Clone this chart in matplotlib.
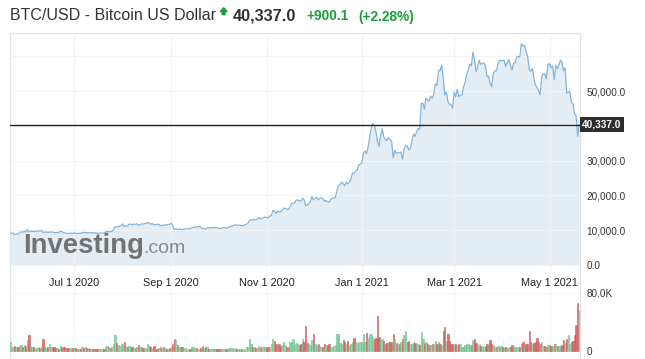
import matplotlib.pyplot as plt
import pandas as pd
from matplotlib.patches import Polygon
from matplotlib.transforms import blended_transform_factory

plt.rcParams['font.family'] = ['Liberation Sans', 'DejaVu Sans']

# BTC/USD daily close, 21 May 2020 - 31 Dec 2020
close_2020 = [
    9060, 9170, 9180, 8720, 8900, 8840, 9200, 9570, 9430, 9700, 9450,
    10200, 9520, 9670, 9790, 9620, 9670, 9750, 9780, 9770, 9880, 9320, 9470, 9470, 9340, 9430,
    9520, 9460, 9390, 9300, 9360, 9290, 9690, 9630, 9290, 9250, 9160, 9010, 9120, 9190, 9140,
    9230, 9090, 9070, 9130, 9080, 9350, 9250, 9430, 9240, 9290, 9240, 9300, 9240, 9260, 9190,
    9130, 9150, 9170, 9210, 9160, 9390, 9540, 9610, 9550, 9700, 9930, 11030, 10910, 11100, 11110, 11350,
    11800, 11070, 11230, 11190, 11740, 11770, 11600, 11750, 11680, 11880, 11400, 11570, 11780, 11770, 11860,
    11910, 12280, 11950, 11750, 11870, 11520, 11680, 11650, 11750, 11320, 11460, 11330, 11540, 11470, 11710, 11680,
    11970, 11420, 10170, 10480, 10170, 10280, 10370, 10130, 10240, 10370, 10400, 10440, 10330, 10680, 10790,
    10950, 10940, 10940, 11090, 10920, 10420, 10540, 10240, 10740, 10690, 10730, 10780, 10700, 10840, 10780,
    10620, 10570, 10550, 10670, 10790, 10600, 10670, 10920, 11060, 11300, 11380, 11550, 11430, 11430, 11500,
    11320, 11360, 11480, 11750, 11920, 12820, 12990, 12930, 13120, 13030, 13070, 13650, 13280, 13460, 13560, 13780,
    13740, 13550, 14020, 14150, 15590, 15580, 14830, 15480, 15330, 15300, 15700, 16280, 16320, 16070, 15960,
    16720, 17660, 17800, 17820, 18680, 18690, 18420, 18370, 19160, 18730, 17150, 17140, 17720, 18180, 19700,
    18790, 19200, 19450, 18700, 19150, 19360, 19170, 18320, 18550, 18250, 18040, 18800, 19170, 19270, 19440,
    21340, 22800, 23140, 23860, 23480, 22730, 23830, 23280, 23730, 24710, 26490, 26280, 27080, 27360, 28840, 29000,
]
# 1 Jan 2021 - 20 May 2021
close_2021 = [
    29370, 32130, 32780, 31970, 33990, 36820, 39370, 40670, 40240, 38240, 35540, 34010, 37390, 39160, 36830,
    36020, 35800, 36630, 36070, 35550, 30830, 33000, 32100, 32290, 32250, 32500, 30430, 33470, 34320, 34300, 33110,
    33540, 35510, 37680, 36980, 38290, 39260, 38900, 46400, 46480, 44840, 47970, 47400, 47190, 48580,
    47940, 49130, 52120, 51600, 55920, 55890, 57410, 54090, 48890, 49700, 47050, 46280, 46100, 45140,
    49630, 48380, 50540, 48450, 48870, 48920, 51210, 52390, 54880, 55850, 57780, 57230, 61190, 59000, 55610,
    56900, 58910, 57650, 58030, 58100, 57350, 54100, 54340, 52300, 51300, 55030, 55820, 55780, 57600, 58750, 58800,
    58740, 58970, 57060, 58200, 59120, 57590, 56000, 58080, 58090, 59770, 59960, 59850, 63580, 62960, 63220,
    61400, 60040, 56220, 55720, 56470, 53800, 51700, 51190, 50100, 49000, 54000, 55030, 54860, 53560, 57750,
    57830, 56630, 57210, 53240, 57470, 56430, 57380, 58930, 58280, 55860, 56700, 49400, 49700, 49900, 46760,
    46450, 43540, 42900, 37000, 40337,
]
# daily volume, thousands
volume_2020 = [
    12, 6, 5, 7, 6, 5, 7, 8, 6, 8, 7,
    15, 22, 7, 6, 5, 4, 4, 5, 4, 6, 16, 7, 4, 5, 10, 6, 5, 5, 4, 4, 3, 7, 5, 6, 5, 4, 4, 3, 4, 4,
    4, 4, 3, 3, 3, 6, 4, 5, 4, 4, 3, 3, 3, 3, 3, 3, 3, 3, 3, 3, 5, 7, 6, 4, 6, 9, 22, 11, 8, 7, 9,
    9, 13, 7, 6, 7, 6, 5, 4, 4, 6, 8, 5, 6, 4, 4, 4, 10, 7, 6, 4, 7, 3, 3, 4, 6, 4, 5, 4, 3, 3, 4,
    6, 10, 16, 15, 8, 5, 5, 6, 4, 4, 3, 3, 3, 5, 5, 4, 4, 3, 3, 4, 7, 4, 5, 5, 3, 3, 3, 3, 3, 3,
    3, 3, 3, 3, 3, 3, 3, 4, 4, 4, 3, 4, 3, 3, 3, 3, 2, 3, 5, 6, 16, 9, 5, 6, 4, 4, 7, 6, 6, 5, 5,
    4, 5, 6, 9, 16, 14, 10, 7, 9, 7, 8, 13, 8, 6, 5, 13, 11, 17, 9, 11, 9, 8, 9, 16, 12, 34, 11, 9, 8, 15,
    23, 10, 8, 9, 7, 6, 6, 9, 8, 7, 9, 6, 6, 7, 8, 23, 23, 11, 10, 15, 13, 10, 14, 8, 9, 12, 18, 12, 11, 12, 12,
]
volume_2021 = [
    13, 23, 12, 25, 18, 23, 23, 20, 16, 18, 48, 20, 16, 16, 14, 10, 11, 12, 12, 13, 23, 16, 11, 9, 10, 12, 16, 22, 28, 12, 14,
    9, 10, 12, 11, 10, 9, 8, 26, 16, 9, 13, 10, 8, 8, 9, 10, 14, 10, 12, 9, 8, 28, 33, 14, 23, 14, 9, 10,
    10, 9, 8, 9, 9, 6, 6, 8, 10, 9, 8, 8, 15, 16, 11, 8, 9, 7, 7, 6, 7, 9, 8, 15, 10, 8, 6, 5, 7, 6, 7,
    6, 5, 5, 4, 5, 6, 8, 7, 5, 6, 5, 6, 9, 12, 8, 10, 9, 27, 13, 10, 11, 13, 18, 13, 9, 12, 7, 7, 6, 8,
    8, 7, 7, 10, 9, 7, 7, 7, 8, 15, 11, 16, 22, 10, 12, 14, 22, 36, 66, 57,
]

tick_labels = ["Jul 1 2020", "Sep 1 2020", "Nov 1 2020", "Jan 1 2021", "Mar 1 2021", "May 1 2021"]
price_ticks = [0, 10000, 20000, 30000, 50000]
last_price = 40337.0
change = 900.1
change_pct = 2.28

price = close_2020 + close_2021
volume = volume_2020 + volume_2021
dates = pd.date_range("2020-05-21", periods=len(price), freq="D")
tick_dates = pd.to_datetime(tick_labels, format="%b %d %Y")
up = [True] + [price[i] >= price[i - 1] for i in range(1, len(price))]

W, H = 645, 359
fig = plt.figure(figsize=(W / 100, H / 100), dpi=100)


def box(x0, y0, x1, y1):
    # pixel box (top-left origin) -> figure fraction rect
    return [x0 / W, 1 - y1 / H, (x1 - x0) / W, (y1 - y0) / H]


def fp(x, y):
    return (x / W, 1 - y / H)


xlim = (dates[0] - pd.Timedelta(hours=2), dates[-1] + pd.Timedelta(hours=12))
grid_c = '#f3f3f3'
border_c = '#e2e2e2'
text_c = '#333333'

# background frame with the vertical grid running through both panels
bg = fig.add_axes(box(10, 33, 580, 359), zorder=0)
bg.set_xlim(xlim)
bg.set_ylim(0, 1)
for d in tick_dates:
    bg.axvline(d, color=grid_c, lw=0.8)
bg.set_xticks([])
bg.set_yticks([])
bg.spines['bottom'].set_visible(False)
for s in ['left', 'right', 'top']:
    bg.spines[s].set_color(border_c)
    bg.spines[s].set_linewidth(0.9)

# price panel
ax = fig.add_axes(box(10, 33, 580, 265), zorder=1)
ax.set_facecolor('none')
ax.fill_between(dates, price, 0, color='#e4edf4', lw=0, zorder=1)
for v in [10000, 20000, 30000, 40000, 50000, 60000]:
    ax.axhline(v, color=grid_c, lw=0.8, zorder=1.5)
for d in tick_dates:
    ax.axvline(d, color=grid_c, lw=0.8, zorder=1.5)
ax.plot(dates, price, color='#84b4db', lw=0.9, zorder=2)
ax.axhline(last_price, color='#262626', lw=1.0, zorder=3)
ax.set_xlim(xlim)
ax.set_ylim(0, 66700)
for s in ax.spines.values():
    s.set_visible(False)
ax.yaxis.tick_right()
ax.set_yticks(price_ticks)
ax.set_yticklabels([f"{v:,.1f}" for v in price_ticks])
ax.set_xticks(tick_dates)
ax.set_xticklabels(tick_labels)
ax.tick_params(axis='y', length=0, pad=4.5, labelsize=7.2, labelcolor=text_c)
ax.tick_params(axis='x', length=0, pad=9, labelsize=7.8, labelcolor='#222222')

tr = blended_transform_factory(ax.transAxes, ax.transData)
ax.text(1.004, last_price, f"{last_price:,.1f}", transform=tr, ha='left', va='center',
        fontsize=7.3, fontweight='bold', color='white', clip_on=False, zorder=5,
        bbox=dict(boxstyle='square,pad=0.22', fc='#2d2d2d', ec='none'))

# volume panel
vax = fig.add_axes(box(10, 293, 580, 359), zorder=1)
vax.set_facecolor('none')
vax.axhline(80, color=grid_c, lw=0.8)
vax.bar(dates, volume, width=0.8,
        color=['#92d2a8' if u else '#dc7070' for u in up],
        edgecolor=['#6cbd88' if u else '#c85a5a' for u in up], linewidth=0.4)
vax.set_xlim(xlim)
vax.set_ylim(-80 * 8 / 58, 80)
for s in vax.spines.values():
    s.set_visible(False)
vax.set_xticks([])
vax.yaxis.tick_right()
vax.set_yticks([0, 80])
vax.set_yticklabels(["0", "80.0K"])
vax.tick_params(axis='y', length=0, pad=4.5, labelsize=7.2, labelcolor=text_c)

# header
fig.text(*fp(10, 16), "BTC/USD - Bitcoin US Dollar", fontsize=11.5, color=text_c, va='center')
arrow = [(223.7, 7.8), (227.2, 11.6), (225.1, 11.6), (225.1, 14.6), (222.3, 14.6), (222.3, 11.6), (220.2, 11.6)]
fig.add_artist(Polygon([fp(x, y) for x, y in arrow], closed=True, color='#1a9e3a',
                       transform=fig.transFigure))
fig.text(*fp(232.5, 16), f"{last_price:,.1f}", fontsize=11.7, fontweight='bold', color=text_c, va='center')
fig.text(*fp(306, 16.5), f"+{change:,.1f}", fontsize=9.9, fontweight='bold', color='#1a9e3a', va='center')
fig.text(*fp(358, 16.5), f"(+{change_pct:.2f}%)", fontsize=9.9, fontweight='bold', color='#1a9e3a', va='center')

# watermark
fig.text(*fp(23, 253), "Investing", fontsize=19.8, fontweight='bold', color='#727272', va='baseline')
fig.text(*fp(143.5, 253), ".com", fontsize=14, color='#8a8a8a', va='baseline')
fig.add_artist(Polygon([fp(x, y) for x, y in [(104, 235), (106, 231.5), (111, 231.5), (109, 235)]],
                       closed=True, color='#f0a860', transform=fig.transFigure))

fig.savefig("out.png", dpi=100)
